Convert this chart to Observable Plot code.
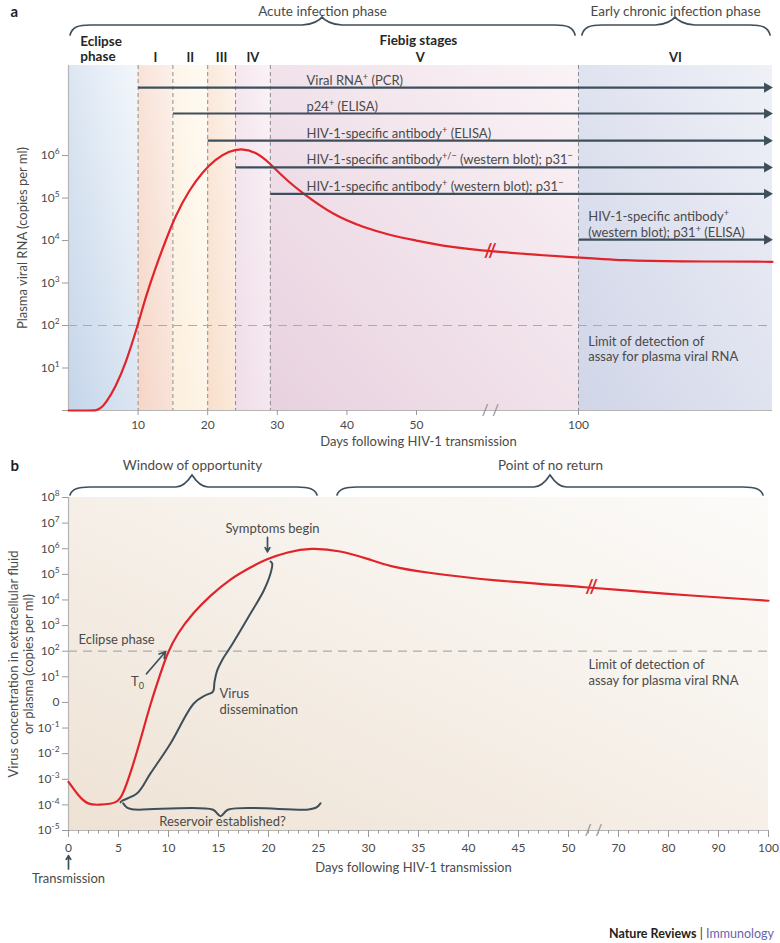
<!DOCTYPE html>
<html><head><meta charset="utf-8">
<script src="https://cdn.jsdelivr.net/npm/d3@7"></script>
<script src="https://cdn.jsdelivr.net/npm/@observablehq/plot@0.6"></script>
<style>
body{margin:0;background:#fff;font-family:Lato,"Open Sans",sans-serif;}
#wrap{position:relative;width:780px;height:943px;overflow:hidden;}
#pa{position:absolute;left:0;top:0;}
#pb{position:absolute;left:0;top:450px;}
#footer{position:absolute;right:6px;top:926px;font-size:12.5px;color:#333;font-family:Lato,sans-serif;}
#footer b{color:#231f20;}
#footer span{color:#6a62b0;}
</style></head>
<body>
<svg width="0" height="0" style="position:absolute">
<defs>
<linearGradient id="ga0" x1="0" y1="1" x2="1" y2="0"><stop offset="0" stop-color="#c4d5ea"/><stop offset="1" stop-color="#f4f7fb"/></linearGradient>
<linearGradient id="ga1" x1="0" y1="1" x2="1" y2="0"><stop offset="0" stop-color="#f5d5c6"/><stop offset="1" stop-color="#fcf0ea"/></linearGradient>
<linearGradient id="ga2" x1="0" y1="1" x2="1" y2="0"><stop offset="0" stop-color="#fcefdc"/><stop offset="1" stop-color="#fffbf4"/></linearGradient>
<linearGradient id="ga3" x1="0" y1="1" x2="1" y2="0"><stop offset="0" stop-color="#f8dfca"/><stop offset="1" stop-color="#fdf3ec"/></linearGradient>
<linearGradient id="ga4" x1="0" y1="1" x2="1" y2="0"><stop offset="0" stop-color="#efdce8"/><stop offset="1" stop-color="#faf2f6"/></linearGradient>
<linearGradient id="ga5" x1="0" y1="1" x2="1" y2="0"><stop offset="0" stop-color="#e8d1df"/><stop offset="1" stop-color="#faf3f6"/></linearGradient>
<linearGradient id="ga6" x1="0" y1="1" x2="1" y2="0"><stop offset="0" stop-color="#d0d5e8"/><stop offset="1" stop-color="#eff1f7"/></linearGradient>
<linearGradient id="gb" x1="0" y1="1" x2="1" y2="0"><stop offset="0" stop-color="#eee2d4"/><stop offset="0.6" stop-color="#f7f2ec"/><stop offset="1" stop-color="#fcfbf9"/></linearGradient>
</defs></svg>
<div id="wrap"><div id="pa"></div><div id="pb"></div>
<div id="footer"><b>Nature Reviews</b> | <span>Immunology</span></div></div>
<script>
// ---------- Panel a data ----------
const aStageStart = [0, 10, 15, 20, 24, 29, 100];
const aStageEnd = [10, 15, 20, 24, 29, 100, 160];
const aStageNames = ["I", "II", "III", "IV", "V", "VI"];
const aStageLabelDay = [12.5, 17.5, 22, 26.5, 51.2, 130];
const aBoundaries = [10, 15, 20, 24, 29, 100];
const aAssayLabels = [
  "Viral RNA^{+} (PCR)",
  "p24^{+} (ELISA)",
  "HIV-1-specific antibody^{+} (ELISA)",
  "HIV-1-specific antibody^{+/−} (western blot); p31^{−}",
  "HIV-1-specific antibody^{+} (western blot); p31^{−}",
  "HIV-1-specific antibody^{+}\n(western blot); p31^{+} (ELISA)"
];
const aAssayStart = [10, 15, 20, 24, 29, 100];
const aAssayRowLog = [7.6, 6.99, 6.35, 5.72, 5.1, 4.02];
const aAssayLabelDay = [34.2, 34.2, 34.2, 34.2, 34.2, 103];
const aAssayEnd = 158.3;
const aCurveDay = [0, 3.2, 4.0, 4.6, 5.32, 6.76, 8.2, 9.88, 11.08, 12.52, 13.96, 15.4, 17.31, 19.24, 21.15, 23.06, 24.75, 26.9, 28.82, 31, 33.4, 38.1, 42.4, 46.3, 50, 57.4, 72.8, 100, 114, 130, 160];
const aCurveLog = [0, 0, 0, 0.05, 0.16, 0.55, 1.1, 1.96, 2.67, 3.37, 4.0, 4.6, 5.18, 5.61, 5.92, 6.1, 6.17, 6.09, 5.84, 5.47, 5.14, 4.59, 4.31, 4.12, 4.0, 3.88, 3.74, 3.6, 3.53, 3.51, 3.5];
const aXTicks = [10, 20, 30, 40, 50, 100];
const aYTickLog = [0, 1, 2, 3, 4, 5, 6];
const aDetectionLog = 2;
const aBreakDay = 72.8;
const aBreakLog = 3.74;
const aPhaseNames = ["Acute infection phase", "Early chronic infection phase"];
const aPhaseStart = [0.3, 101.2];
const aPhaseEnd = [99.1, 159.4];
const aPhaseTip = [36.5, 130];

// ---------- Panel b data ----------
const bCurveDay = [0, 1, 1.9, 3.2, 4.2, 4.8, 5.37, 6.2, 7.2, 8.2, 9.2, 9.87, 10.87, 12.53, 14.2, 16.2, 18.2, 19.87, 21.87, 24.2, 27.2, 30, 32.2, 35.5, 42.2, 52.2, 77.8, 100];
const bCurveLog = [-3.1, -3.65, -4.0, -4.0, -3.96, -3.9, -3.68, -2.77, -1.47, -0.04, 1.13, 1.91, 2.69, 3.53, 4.18, 4.83, 5.28, 5.61, 5.87, 6.04, 5.93, 5.6, 5.3, 5.08, 4.76, 4.49, 4.26, 3.97];
const bDissemDay = [5.2, 5.37, 6.87, 8.2, 10.2, 12.53, 13.7, 14.45, 14.6, 14.87, 15.4, 16.2, 18.2, 19.53, 20.2, 20.37, 20.2];
const bDissemLog = [-3.9, -3.84, -3.55, -2.77, -1.6, -0.04, 0.28, 0.42, 0.8, 1.25, 1.68, 2.16, 3.47, 4.37, 5.03, 5.42, 5.5];
const bReservoirDay = [5.47, 5.9, 6.6, 14.4, 15.2, 16.0, 24.0, 24.8, 25.2];
const bReservoirLog = [-3.94, -4.12, -4.18, -4.18, -4.44, -4.18, -4.18, -4.1, -3.94];
const bXTicks = [0, 5, 10, 15, 20, 25, 30, 35, 40, 45, 50, 70, 80, 90, 100];
const bXMinor = [1,2,3,4,6,7,8,9,11,12,13,14,16,17,18,19,21,22,23,24,26,27,28,29,31,32,33,34,36,37,38,39,41,42,43,44,46,47,48,49,51,52,66,68,72,74,76,78,82,84,86,88,92,94,96,98];
const bYTickLog = [8, 7, 6, 5, 4, 3, 2, 1, 0, -1, -2, -3, -4, -5];
const bDetectionLog = 2;
const bBreakDay = 52.3;
const bBreakLog = 4.49;
const bPhaseNames = ["Window of opportunity", "Point of no return"];
const bPhaseStart = [0.2, 26.9];
const bPhaseEnd = [24.9, 99];
const bPhaseTip = [12.4, 48.2];

// ---------- helpers ----------
const INK = "#4a4a4a", SLATE = "#3e4f5c", RED = "#e1232a", FONT = "Lato, 'Open Sans', sans-serif";
const ns = "http://www.w3.org/2000/svg";
function richText(root) {
  const walker = document.createTreeWalker(root, NodeFilter.SHOW_TEXT);
  const nodes = [];
  while (walker.nextNode()) if (/[\^_]\{/.test(walker.currentNode.nodeValue)) nodes.push(walker.currentNode);
  for (const node of nodes) {
    const s = node.nodeValue, frag = document.createDocumentFragment();
    const re = /([\^_])\{([^}]*)\}/g;
    let last = 0, cur = 0, m;
    const add = (txt, target, small) => {
      const t = document.createElementNS(ns, "tspan");
      t.textContent = txt;
      if (target !== cur) { t.setAttribute("dy", target - cur); cur = target; }
      if (small) t.setAttribute("font-size", "70%");
      frag.appendChild(t);
    };
    while ((m = re.exec(s))) {
      if (m.index > last) add(s.slice(last, m.index), 0, false);
      add(m[2], m[1] === "^" ? -5 : 3, true);
      last = re.lastIndex;
    }
    if (last < s.length) add(s.slice(last), 0, false);
    else if (cur !== 0) add("\u200B", 0, false);
    node.parentNode.replaceChild(frag, node);
  }
}
function braces(starts, ends, tips, offEnd, offLine, offTip, tipW) {
  return (index, scales, values, dims) => {
    const g = d3.create("svg:g").attr("fill", "none").attr("stroke", SLATE)
      .attr("stroke-width", 1.7).attr("stroke-linecap", "round");
    const t = dims.marginTop;
    starts.forEach((s, i) => {
      const xa = scales.x(s), xb = scales.x(ends[i]), xm = scales.x(tips[i]);
      const ye = t + offEnd, yl = t + offLine, yt = t + offTip, r = 20;
      const d = `M${xa},${ye} C${xa+2},${yl+2} ${xa+8},${yl} ${xa+r},${yl} L${xm-tipW},${yl} C${xm-tipW/2},${yl} ${xm-2},${yt+3} ${xm},${yt} C${xm+2},${yt+3} ${xm+tipW/2},${yl} ${xm+tipW},${yl} L${xb-r},${yl} C${xb-8},${yl} ${xb-2},${yl+2} ${xb},${ye}`;
      g.append("path").attr("d", d);
    });
    return g.node();
  };
}
const supFmt = (k) => `10^{${k}}`;

// ---------- Panel a ----------
const aTop = 10 ** 8.12;
const aCurve = aCurveDay.map((d, i) => ({day: d, v: 10 ** aCurveLog[i]}));
const aAssays = aAssayLabels.map((l, i) => ({label: l, start: aAssayStart[i], v: 10 ** aAssayRowLog[i], lx: aAssayLabelDay[i]}));
const aStageRects = aStageStart.map((s, i) => Plot.rect([{s, e: aStageEnd[i]}], {x1: "s", x2: "e", y1: () => 1, y2: () => aTop, fill: `url(#ga${i})`}));

const pa = Plot.plot({
  width: 780, height: 450, marginLeft: 68, marginRight: 8, marginTop: 65, marginBottom: 40,
  x: {type: "linear", domain: [0, 50, 100, 160], range: [68, 416, 578, 772]},
  y: {type: "log", domain: [1, aTop]},
  style: {fontFamily: FONT, fontSize: "12px", color: INK, background: "transparent", overflow: "visible"},
  marks: [
    ...aStageRects,
    Plot.ruleX(aBoundaries, {stroke: "#8d8d8d", strokeDasharray: "4,3", strokeWidth: 1}),
    Plot.ruleY([10 ** aDetectionLog], {stroke: "#ababab", strokeDasharray: "9,6", strokeWidth: 1.2}),
    Plot.ruleX([0], {stroke: "#b5b5b5", strokeWidth: 1.2}),
    Plot.ruleY([1], {stroke: "#b5b5b5", strokeWidth: 1.2}),
    Plot.line(aCurve, {x: "day", y: "v", stroke: RED, strokeWidth: 2.2, curve: "basis"}),
    Plot.text(["//"], {x: () => aBreakDay, y: () => 10 ** aBreakLog, fill: RED, fontSize: 18, fontWeight: "bold"}),
    Plot.text(["/ /"], {x: () => aBreakDay, y: () => 1, fill: "#8a8a8a", fontSize: 15}),
    Plot.link(aAssays, {x1: "start", x2: () => aAssayEnd, y1: "v", y2: "v", stroke: SLATE, strokeWidth: 2.2}),
    Plot.dot(aAssays, {x: () => aAssayEnd, y: "v", symbol: "triangle", rotate: 90, r: 3.8, fill: SLATE, stroke: null}),
    Plot.text(aAssays, {x: "lx", y: "v", text: "label", textAnchor: "start", lineAnchor: "bottom", dy: -3, fontSize: 13, fill: INK, lineHeight: 1.2}),
    Plot.text(["Limit of detection of\nassay for plasma viral RNA"], {x: () => 103, y: () => 10 ** 1.46, textAnchor: "start", fontSize: 13, fill: INK, lineHeight: 1.2}),
    Plot.text(["Eclipse\nphase"], {x: () => 1.7, frameAnchor: "top", dy: -30, textAnchor: "start", fontWeight: "bold", fontSize: 13.5, fill: "#262626", lineHeight: 1.1}),
    Plot.text(aStageNames, {x: (d, i) => aStageLabelDay[i], frameAnchor: "top", dy: -13, fontWeight: "bold", fontSize: 13, fill: "#262626"}),
    Plot.text(["Fiebig stages"], {x: () => 50.6, frameAnchor: "top", dy: -30, fontWeight: "bold", fontSize: 13.5, fill: "#262626"}),
    Plot.text(aPhaseNames, {x: (d, i) => aPhaseTip[i], frameAnchor: "top", dy: -59, fontSize: 13.5, fill: INK}),
    braces(aPhaseStart, aPhaseEnd, aPhaseTip, -30, -40, -48, 20),
    Plot.text(["a"], {frameAnchor: "top-left", dx: -58, dy: -59, textAnchor: "start", fontWeight: "bold", fontSize: 15, fill: "#1e1e1e"}),
    Plot.axisX({ticks: aXTicks, tickSize: 5, tickPadding: 5, label: null, stroke: "#9a9a9a", fill: INK, fontSize: 12}),
    Plot.axisY({ticks: aYTickLog.map(k => 10 ** k), tickFormat: d => { const k = Math.round(Math.log10(d)); return k === 0 ? "" : supFmt(k); }, tickSize: 6, tickPadding: 3, label: null, stroke: "#9a9a9a", fill: INK, fontSize: 12}),
    Plot.text(["Days following HIV-1 transmission"], {x: () => 50.6, frameAnchor: "bottom", dy: 35, fontSize: 13, fill: INK}),
    Plot.text(["Plasma viral RNA (copies per ml)"], {frameAnchor: "left", dx: -46, rotate: -90, textAnchor: "middle", fontSize: 13, fill: INK})
  ]
});
document.getElementById("pa").appendChild(pa);
richText(pa);

// ---------- Panel b ----------
const bCurve = bCurveDay.map((d, i) => ({day: d, v: 10 ** bCurveLog[i]}));
const bDissem = bDissemDay.map((d, i) => ({day: d, v: 10 ** bDissemLog[i]}));
const bReservoir = bReservoirDay.map((d, i) => ({day: d, v: 10 ** bReservoirLog[i]}));

const pb = Plot.plot({
  width: 780, height: 445, marginLeft: 68, marginRight: 12, marginTop: 47, marginBottom: 65,
  x: {type: "linear", domain: [0, 52.5, 65, 100], range: [68, 593, 593, 768]},
  y: {type: "log", domain: [1e-5, 1e8]},
  style: {fontFamily: FONT, fontSize: "12px", color: INK, background: "transparent", overflow: "visible"},
  marks: [
    Plot.rect([{s: 0, e: 100}], {x1: "s", x2: "e", y1: () => 1e-5, y2: () => 1e8, fill: "url(#gb)"}),
    Plot.ruleY([10 ** bDetectionLog], {stroke: "#ababab", strokeDasharray: "9,6", strokeWidth: 1.2}),
    Plot.ruleX([0], {stroke: "#b5b5b5", strokeWidth: 1.2}),
    Plot.ruleY([1e-5], {stroke: "#b5b5b5", strokeWidth: 1.2}),
    Plot.line(bDissem, {x: "day", y: "v", stroke: SLATE, strokeWidth: 2, curve: "catmull-rom"}),
    Plot.line(bReservoir, {x: "day", y: "v", stroke: SLATE, strokeWidth: 2, curve: "catmull-rom"}),
    Plot.line(bCurve, {x: "day", y: "v", stroke: RED, strokeWidth: 2.2, curve: "basis"}),
    Plot.text(["//"], {x: () => bBreakDay, y: () => 10 ** bBreakLog, fill: RED, fontSize: 18, fontWeight: "bold"}),
    Plot.text(["/ /"], {x: () => 60, y: () => 1e-5, fill: "#8a8a8a", fontSize: 15}),
    Plot.text(["Symptoms begin"], {x: () => 20.4, y: () => 10 ** 6.79, fontSize: 13, fill: INK}),
    Plot.arrow([0], {x1: () => 19.9, x2: () => 19.9, y1: () => 10 ** 6.44, y2: () => 10 ** 5.88, stroke: SLATE, strokeWidth: 1.7, headLength: 6}),
    Plot.text(["Eclipse phase"], {x: () => 1.0, y: () => 10 ** 2.45, textAnchor: "start", fontSize: 13, fill: INK}),
    Plot.text(["T_{0}"], {x: () => 6.9, y: () => 10 ** 0.8, fontSize: 13, fill: INK}),
    Plot.arrow([0], {x1: () => 7.8, x2: () => 9.7, y1: () => 10 ** 1.12, y2: () => 10 ** 1.98, stroke: SLATE, strokeWidth: 1.7, headLength: 6}),
    Plot.text(["Virus\ndissemination"], {x: () => 15.1, y: () => 10 ** 0.05, textAnchor: "start", fontSize: 13, fill: INK, lineHeight: 1.2}),
    Plot.text(["Reservoir established?"], {x: () => 15.4, y: () => 10 ** -4.67, fontSize: 13, fill: INK}),
    Plot.text(["Limit of detection of\nassay for plasma viral RNA"], {x: () => 52, y: () => 10 ** 1.18, textAnchor: "start", fontSize: 13, fill: INK, lineHeight: 1.2}),
    Plot.text(bPhaseNames, {x: (d, i) => bPhaseTip[i], frameAnchor: "top", dy: -37, fontSize: 13.5, fill: INK}),
    braces(bPhaseStart, bPhaseEnd, bPhaseTip, -2, -10, -22, 16),
    Plot.text(["b"], {frameAnchor: "top-left", dx: -58, dy: -37, textAnchor: "start", fontWeight: "bold", fontSize: 15, fill: "#1e1e1e"}),
    Plot.axisX({ticks: bXTicks, tickSize: 7, tickPadding: 6, tickFormat: d => String(d), label: null, stroke: "#9a9a9a", fill: INK, fontSize: 12}),
    Plot.axisX({ticks: bXMinor, tickSize: 3.5, tickFormat: () => "", label: null, stroke: "#9a9a9a"}),
    Plot.axisY({ticks: bYTickLog.map(k => 10 ** k), tickFormat: d => { const k = Math.round(Math.log10(d)); return k === 0 ? "0" : supFmt(k); }, tickSize: 6, tickPadding: 3, label: null, stroke: "#9a9a9a", fill: INK, fontSize: 12}),
    Plot.arrow([0], {x1: () => 0, x2: () => 0, y1: () => 10 ** -6.5, y2: () => 10 ** -5.98, stroke: SLATE, strokeWidth: 1.7, headLength: 6}),
    Plot.text(["Transmission"], {x: () => 0, y: () => 10 ** -6.88, fontSize: 13, fill: INK}),
    Plot.text(["Days following HIV-1 transmission"], {x: () => 34.5, frameAnchor: "bottom", dy: 41, fontSize: 13, fill: INK}),
    Plot.text(["Virus concentration in extracellular fluid\nor plasma (copies per ml)"], {frameAnchor: "left", dx: -48, rotate: -90, textAnchor: "middle", fontSize: 13, fill: INK, lineHeight: 1.2})
  ]
});
document.getElementById("pb").appendChild(pb);
richText(pb);
</script>
</body></html>
